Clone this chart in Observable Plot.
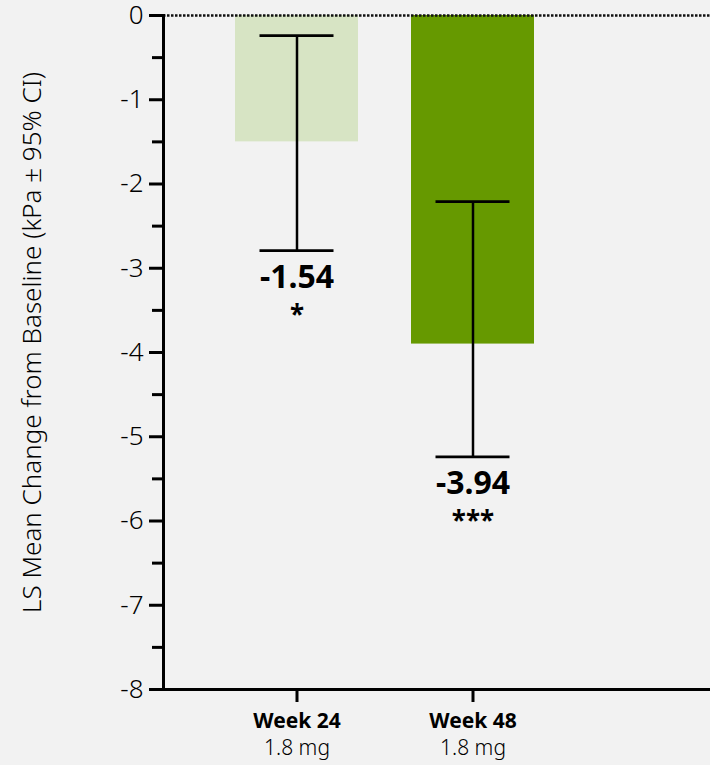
<!DOCTYPE html>
<html>
<head>
<meta charset="utf-8">
<script src="https://cdn.jsdelivr.net/npm/d3@7"></script>
<script src="https://cdn.jsdelivr.net/npm/@observablehq/plot@0.6"></script>
<style>
  html, body { margin: 0; padding: 0; background: #f2f2f2; }
  #chart { width: 710px; height: 765px; }
</style>
</head>
<body>
<div id="chart"></div>
<script>
const categories = ["Week 24", "Week 48"];
const doses = ["1.8 mg", "1.8 mg"];
const barValues = [-1.5, -3.9];
const ciUpper = [-0.24, -2.21];
const ciLower = [-2.79, -5.24];
const meanLabels = ["-1.54", "-3.94"];
const significance = ["*", "***"];
const barColors = ["#d7e4c4", "#669900"];
const yTicks = [0, -1, -2, -3, -4, -5, -6, -7, -8];
const yMinorTicks = [-0.5, -1.5, -2.5, -3.5, -4.5, -5.5, -6.5, -7.5];
const yTitle = "LS Mean Change from Baseline (kPa ± 95% CI)";

const rows = categories.map((c, i) => ({
  cat: c, dose: doses[i], value: barValues[i], hi: ciUpper[i], lo: ciLower[i],
  label: meanLabels[i], sig: significance[i], color: barColors[i]
}));

const chart = Plot.plot({
  width: 710,
  height: 765,
  marginLeft: 163,
  marginRight: 0,
  marginTop: 15,
  marginBottom: 76,
  style: { background: "#f2f2f2", fontFamily: "'Noto Sans', sans-serif", fontSize: "26px", fontWeight: 300, color: "#000", overflow: "visible" },
  x: { domain: categories, range: [235, 535], paddingInner: 0.3, paddingOuter: 0, axis: null },
  y: { domain: [-8, 0], axis: null },
  marks: [
    Plot.barY(rows, { x: "cat", y: "value", fill: "color" }),
    Plot.ruleY([0], { stroke: "#111", strokeWidth: 2.5, strokeDasharray: "2.5,1.5" }),
    Plot.ruleX(rows, { x: "cat", y1: "hi", y2: "lo", stroke: "#000", strokeWidth: 2.5 }),
    Plot.tickY(rows, { x: "cat", y: "hi", stroke: "#000", strokeWidth: 2.8, insetLeft: 24.5, insetRight: 24.5 }),
    Plot.tickY(rows, { x: "cat", y: "lo", stroke: "#000", strokeWidth: 2.8, insetLeft: 24.5, insetRight: 24.5 }),
    Plot.text(rows, { x: "cat", y: "lo", text: "label", dy: 27, fontSize: 32, fontWeight: "bold", fill: "#000" }),
    Plot.text(rows, { x: "cat", y: "lo", text: "sig", dy: 65, fontSize: 26, fontWeight: "bold", fill: "#000" }),
    Plot.axisY({ ticks: yMinorTicks, tickSize: 11, tickFormat: () => "", strokeWidth: 3, label: null }),
    Plot.axisY({ ticks: yTicks, tickSize: 14, tickFormat: () => "", strokeWidth: 3, label: null }),
    Plot.text(yTicks, { y: d => d, text: d => String(d), frameAnchor: "left", textAnchor: "end", dx: -20, fontSize: 26, fontWeight: 300, fill: "#000" }),
    Plot.axisX({ tickSize: 13, tickFormat: () => "", strokeWidth: 3, label: null }),
    Plot.ruleY([-8], { stroke: "#000", strokeWidth: 3 }),
    Plot.frame({ anchor: "left", stroke: "#000", strokeWidth: 3 }),
    Plot.text(rows, { x: "cat", text: "cat", frameAnchor: "bottom", lineAnchor: "top", dy: 24, fontSize: 21, fontWeight: "bold", fill: "#000" }),
    Plot.text(rows, { x: "cat", text: "dose", frameAnchor: "bottom", lineAnchor: "top", dy: 51, fontSize: 21, fontWeight: 300, fill: "#000" }),
    Plot.text([yTitle], { text: d => d, frameAnchor: "left", textAnchor: "middle", rotate: -90, dx: -131, dy: -10, fontSize: 26, fontWeight: 300, fill: "#000" })
  ]
});
document.getElementById("chart").appendChild(chart);
</script>
</body>
</html>
